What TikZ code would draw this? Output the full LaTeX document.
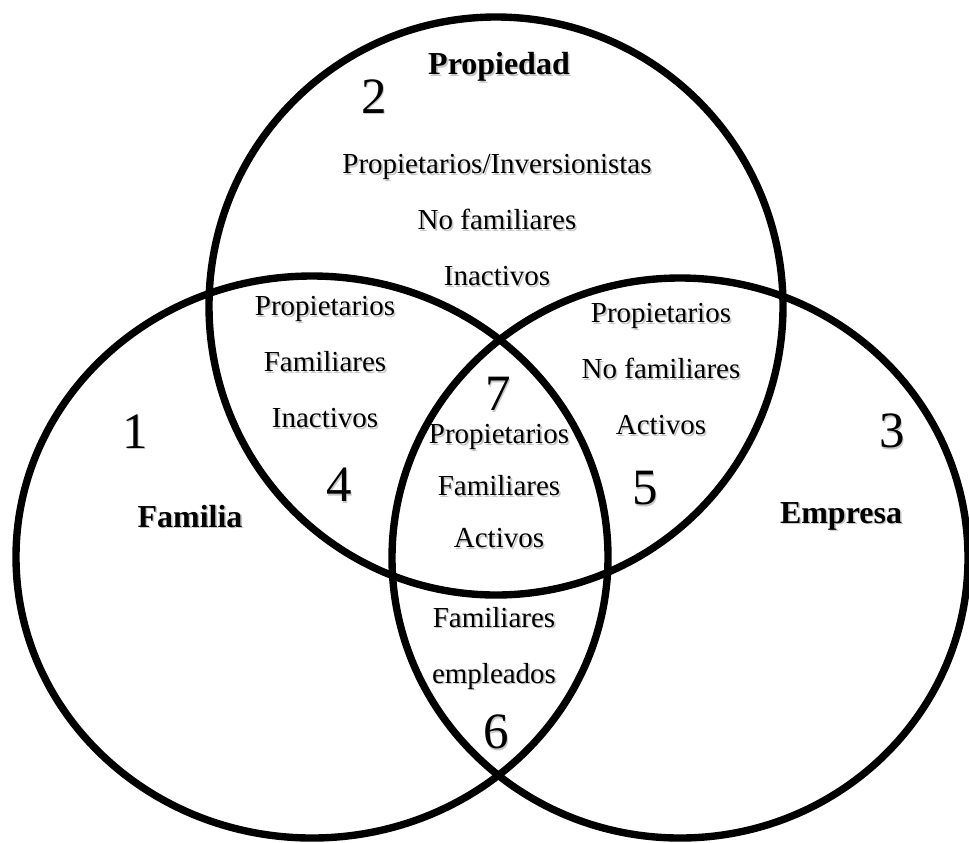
\documentclass[tikz,border=0pt]{standalone}
\usepackage{fontspec}
\setmainfont{Liberation Serif}
\usetikzlibrary{shapes.geometric}

% light grey shadow behind the text
\newcommand{\sh}[1]{\leavevmode\rlap{\kern0.9pt\raisebox{-0.9pt}{\textcolor{black!22}{#1}}}#1}

\tikzstyle{ring} = [line width=4.2pt, draw=black]
\tikzstyle{region} = [align=center, inner sep=0pt,
font=\fontsize{16.5}{32}\selectfont]
\tikzstyle{setname} = [inner sep=0pt,
font=\fontsize{18.2}{22}\selectfont\bfseries]
\tikzstyle{number} = [inner sep=0pt,
font=\fontsize{29}{34}\selectfont]

\begin{document}
\begin{tikzpicture}[x=0.02cm, y=-0.02cm]
                \useasboundingbox (0,0) rectangle (969,842);

                \draw [ring] (496,306) ellipse [x radius=287, y radius=289];
                \draw [ring] (312,557) ellipse [x radius=296, y radius=281];
                \draw [ring] (680,558) ellipse [x radius=288, y radius=280];

                \node (propiedad) [setname] at (499,68) {\sh{Propiedad}};
                \node (familia) [setname] at (190,517) {\sh{Familia}};
                \node (empresa) [setname] at (841,517) {\sh{Empresa}};

                \node (n1) [number] at (135,432) {\sh{1}};
                \node (n2) [number] at (374,97) {\sh{2}};
                \node (n3) [number] at (892,432) {\sh{3}};
                \node (n4) [number] at (339,486) {\sh{4}};
                \node (n5) [number] at (645,489) {\sh{5}};
                \node (n6) [number] at (496,733) {\sh{6}};
                \node (n7) [number] at (498,395) {\sh{7}};

                \node (r2) [region] at (497,221) {\sh{Propietarios/Inversionistas}\\\sh{No familiares}\\\sh{Inactivos}};
                \node (r4) [region] at (325,363) {\sh{Propietarios}\\\sh{Familiares}\\\sh{Inactivos}};
                \node (r5) [region] at (661,370) {\sh{Propietarios}\\\sh{No familiares}\\\sh{Activos}};
                \node (r7) [region, font=\fontsize{16.5}{29.5}\selectfont] at (499,487) {\sh{Propietarios}\\\sh{Familiares}\\\sh{Activos}};
                \node (r6) [region] at (494,649) {\sh{Familiares}\\\sh{empleados}};
\end{tikzpicture}
\end{document}
